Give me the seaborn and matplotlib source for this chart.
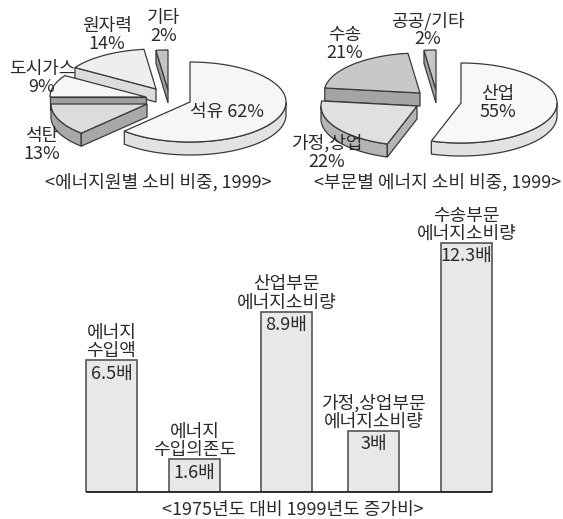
import numpy as np
import pandas as pd
import matplotlib
matplotlib.use('Agg')
import matplotlib.pyplot as plt
from matplotlib.patches import Polygon
import seaborn as sns

# Data
source_labels = ['석유 62%', '석탄\n13%', '도시가스\n9%', '원자력\n14%', '기타\n2%']
source_shares = [62, 13, 9, 14, 2]
sector_labels = ['산업\n55%', '가정,상업\n22%', '수송\n21%', '공공/기타\n2%']
sector_shares = [55, 22, 21, 2]
bar_labels = ['에너지\n수입액', '에너지\n수입의존도', '산업부문\n에너지소비량',
              '가정,상업부문\n에너지소비량', '수송부문\n에너지소비량']
bar_values = [6.5, 1.6, 8.9, 3, 12.3]
bar_value_text = ['6.5배', '1.6배', '8.9배', '3배', '12.3배']

# Layout, all in pixels of the 563x519 image
W, H = 563, 519
source_apex = [(190, 102), (147, 104), (146, 97), (156, 89), (168, 90)]
source_top = ['#f6f6f6', '#dcdcdc', '#f6f6f6', '#eeeeee', '#c4c4c4']
source_side = ['#e2e2e2', '#a8a8a8', '#a0a0a0', '#dcdcdc', '#9c9c9c']
source_text = [(227, 112), (42, 145), (42, 78), (107, 35), (164, 27)]
source_order = [0, 4, 3, 2, 1]

sector_apex = [(461, 103), (417, 106), (420, 93), (436, 90)]
sector_top = ['#f8f8f8', '#e0e0e0', '#c8c8c8', '#c8c8c8']
sector_side = ['#e2e2e2', '#b4b4b4', '#a4a4a4', '#a4a4a4']
sector_text = [(498, 103), (327, 153), (345, 44), (428, 30)]
sector_order = [0, 3, 2, 1]

bar_x = [111.5, 194.5, 286.5, 373.5, 466.5]
bar_px = 51
px_per_unit = 20.2
baseline_px = 491.5
axes_top_px = 195
RX, RY, DEPTH = 96, 40, 13
INK = '#2a2a2a'
EDGE = '#3a3a3a'

sns.set_style('white')
plt.rcParams['font.family'] = ['Noto Sans CJK KR', 'DejaVu Sans']
plt.rcParams['font.size'] = 13

fig = plt.figure(figsize=(W / 100, H / 100), dpi=100)

# overlay in pixel coordinates for the fake 3D pies and captions
ax_px = fig.add_axes([0, 0, 1, 1])
ax_px.set_xlim(0, W)
ax_px.set_ylim(H, 0)
ax_px.axis('off')


def draw_face(ax, pts, color):
    pts = np.asarray(pts)
    low = pts[::-1] + [0, DEPTH]
    ax.add_patch(Polygon(np.vstack([pts, low]), closed=True, facecolor=color,
                         edgecolor=EDGE, linewidth=0.9))


def draw_slice(ax, apex, start, end, top, side):
    # start > end, going clockwise
    t = np.radians(np.linspace(start, end, 120))
    arc = np.column_stack([apex[0] + RX * np.cos(t), apex[1] - RY * np.sin(t)])
    # only faces that look down towards the viewer get a side
    front = np.diff(arc[:, 0]) < 0
    if front.any():
        idx = np.where(front)[0]
        draw_face(ax, arc[idx[0]:idx[-1] + 2], side)
    if arc[0, 0] < apex[0]:
        draw_face(ax, [apex, arc[0]], side)
    if apex[0] < arc[-1, 0]:
        draw_face(ax, [arc[-1], apex], side)
    ax.add_patch(Polygon(np.vstack([[apex], arc]), closed=True, facecolor=top,
                         edgecolor=EDGE, linewidth=0.9))


def draw_pie(ax, shares, apexes, tops, sides, order):
    angles = 90 - np.cumsum([0] + shares) * 3.6
    for i in order:
        draw_slice(ax, apexes[i], angles[i], angles[i + 1], tops[i], sides[i])


draw_pie(ax_px, source_shares, source_apex, source_top, source_side, source_order)
draw_pie(ax_px, sector_shares, sector_apex, sector_top, sector_side, sector_order)

for labels, spots in [(source_labels, source_text), (sector_labels, sector_text)]:
    for label, (x, y) in zip(labels, spots):
        ax_px.text(x, y, label, ha='center', va='center', color=INK, linespacing=1.02)

ax_px.text(158, 182, '<에너지원별 소비 비중, 1999>', ha='center', va='center', color=INK)
ax_px.text(438, 182, '<부문별 에너지 소비 비중, 1999>', ha='center', va='center', color=INK)
ax_px.text(293, 510, '<1975년도 대비 1999년도 증가비>', ha='center', va='center', color=INK)

# bars, x axis keeps pixel units so the uneven spacing survives
ax = fig.add_axes([0, (H - baseline_px) / H, 1, (baseline_px - axes_top_px) / H])
ax.patch.set_alpha(0)
df = pd.DataFrame({'x': bar_x, 'value': bar_values})
sns.barplot(data=df, x='x', y='value', native_scale=True, width=bar_px / 83,
            color='#e8e8e8', saturation=1, edgecolor='#555555', linewidth=1.2, ax=ax)
ax.set_xlim(0, W)
ax.set_ylim(0, (baseline_px - axes_top_px) / px_per_unit)
ax.axis('off')
ax.hlines(0, bar_x[0] - bar_px / 2, bar_x[-1] + bar_px / 2, color='#222222',
          linewidth=1.3, clip_on=False)
ax.bar_label(ax.containers[0], labels=bar_value_text, padding=-16, color=INK)
for x, v, label in zip(bar_x, bar_values, bar_labels):
    ax.annotate(label, (x, v), xytext=(0, 0), textcoords='offset points',
                ha='center', va='bottom', color=INK, linespacing=1.02)

fig.savefig('out.png', dpi=100)
